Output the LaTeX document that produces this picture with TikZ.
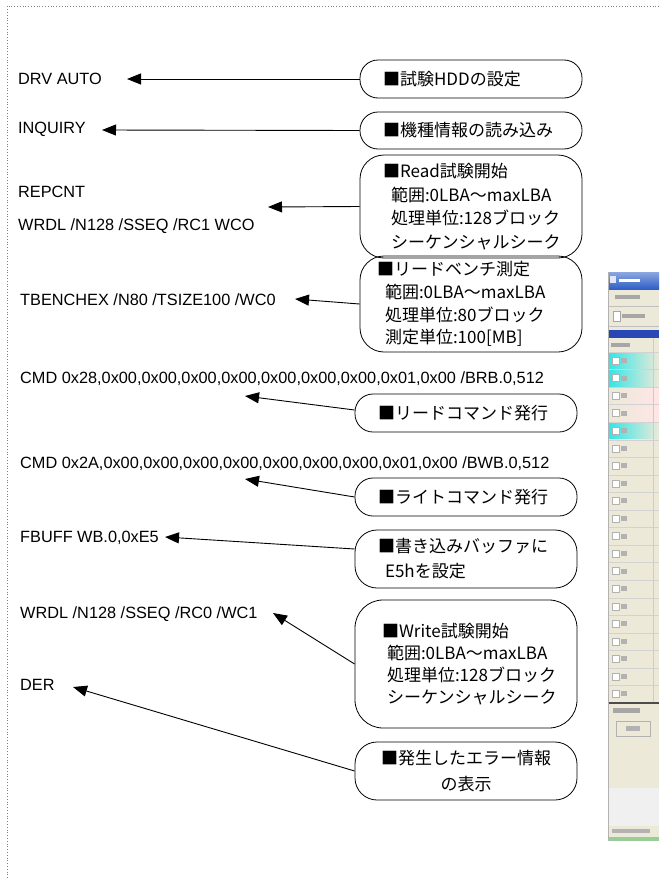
\documentclass[tikz,border=0pt]{standalone}
\usepackage{fontspec}
\setmainfont{Liberation Sans}
\newfontfamily\jp{Noto Sans CJK JP}
\usetikzlibrary{arrows.meta}
\definecolor{scrbg}{HTML}{ECE9D8}
\definecolor{xpblue}{HTML}{2F5FC8}
\definecolor{xpdark}{HTML}{2846B4}
\definecolor{rowcyan}{HTML}{35E6E6}
\begin{document}
\begin{tikzpicture}[x=1pt,y=-1pt,
  cmd/.style={anchor=base west,inner sep=0pt,font=\fontsize{16.3}{19}\selectfont},
  note/.style={draw,line width=0.8pt,inner ysep=0pt,minimum width=222pt,align=left,
    font=\jp\fontsize{17}{23.5}\selectfont},
  pad/.style={inner xsep=23pt,text width=176pt},
  arr/.style={draw,line width=0.9pt,-{Triangle[length=14pt,width=11pt]}},
]
\useasboundingbox (0,0) rectangle (659,878);
\draw[gray,dotted,line width=0.8pt] (659,6) -- (7,6) -- (7,878);

% command texts
\node[cmd] (c1) at (18,84) {DRV AUTO};
\node[cmd] (c2) at (18,133) {INQUIRY};
\node[cmd] (c3a) at (18,197) {REPCNT};
\node[cmd] (c3b) at (18,230) {WRDL /N128 /SSEQ /RC1 WCO};
\node[cmd] (c4) at (20,305) {TBENCHEX /N80 /TSIZE100 /WC0};
\node[cmd] (c5) at (20,383) {CMD 0x28,0x00,0x00,0x00,0x00,0x00,0x00,0x00,0x01,0x00 /BRB.0,512};
\node[cmd] (c6) at (20,468) {CMD 0x2A,0x00,0x00,0x00,0x00,0x00,0x00,0x00,0x01,0x00 /BWB.0,512};
\node[cmd] (c7) at (20,542) {FBUFF WB.0,0xE5};
\node[cmd] (c8) at (20,618) {WRDL /N128 /SSEQ /RC0 /WC1};
\node[cmd] (c9) at (20,690) {DER};

% note boxes
\node[note,pad,rounded corners=18pt,minimum height=38pt] (b1) at (471,79) {■試験HDDの設定};
\node[note,pad,rounded corners=18pt,minimum height=37pt] (b2) at (471,130.5) {■機種情報の読み込み};
\node[note,pad,rounded corners=24pt,minimum height=103pt] (b3) at (471,206.5)
  {■Read試験開始\\\hspace*{8pt}範囲:0LBA〜maxLBA\\\hspace*{8pt}処理単位:128ブロック\\\hspace*{8pt}シーケンシャルシーク};
\node[note,inner xsep=17pt,text width=188pt,rounded corners=24pt,minimum height=96pt,
  font=\jp\fontsize{17}{22.7}\selectfont] (b4) at (471,304)
  {■リードベンチ測定\\\hspace*{8pt}範囲:0LBA〜maxLBA\\\hspace*{8pt}処理単位:80ブロック\\\hspace*{8pt}測定単位:100[MB]};
\node[note,pad,rounded corners=18pt,minimum height=38pt] (b5) at (466,413) {■リードコマンド発行};
\node[note,pad,rounded corners=18pt,minimum height=38pt] (b6) at (466,497) {■ライトコマンド発行};
\node[note,pad,rounded corners=22pt,minimum height=58pt,
  font=\jp\fontsize{17}{25}\selectfont] (b7) at (466,559)
  {■書き込みバッファに\\\hspace*{7pt}E5hを設定};
\node[note,inner xsep=27pt,text width=168pt,rounded corners=28pt,minimum height=128pt,
  font=\jp\fontsize{17}{22}\selectfont] (b8) at (466,664)
  {■Write試験開始\\\hspace*{5pt}範囲:0LBA〜maxLBA\\\hspace*{5pt}処理単位:128ブロック\\\hspace*{5pt}シーケンシャルシーク};
\node[note,align=center,text width=200pt,inner xsep=11pt,rounded corners=22pt,minimum height=58pt,
  font=\jp\fontsize{17}{26}\selectfont] (b9) at (466,771)
  {■発生したエラー情報\\の表示};

% arrow tips
\coordinate (t1) at (127,79);
\coordinate (t2) at (102,130);
\coordinate (t3) at (268,207);
\coordinate (t4) at (295,299);
\coordinate (t5) at (245,396);
\coordinate (t6) at (245,479);
\coordinate (t7) at (165,537);
\coordinate (t8) at (273,613);
\coordinate (t9) at (73,687);

\path[arr] (b1.west) -- (t1);
\path[arr] (b2.west) -- (t2);
\path[arr] (b3.west) -- (t3);
\path[arr] (b4.west) -- (t4);
\path[arr] ([yshift=3pt]b5.west) -- (t5);
\path[arr] (b6.west) -- (t6);
\path[arr] ([yshift=10pt]b7.west) -- (t7);
\path[arr] (b8.west) -- (t8);
\path[arr] (b9.west) -- (t9);

% screenshot of the application window (approximation)
\begin{scope}
  \fill[scrbg] (608,272) rectangle (659,841);
  \shade[top color=xpblue!55!white,bottom color=xpblue] (608,272) rectangle (659,289);
  \fill[white!85!xpblue] (610,276) rectangle (616,283);
  \fill[white] (619,279) rectangle (640,282);
  \fill[gray!70] (615,295) rectangle (640,299);
  \draw[gray!50] (608,306) -- (659,306);
  \draw[gray!70,fill=white] (613,311) rectangle (620,321);
  \fill[gray!70] (622,314) rectangle (645,318);
  \draw[gray!50] (608,326) -- (659,326);
  \fill[xpdark] (608,330) rectangle (659,338);
  \fill[gray!70] (611,343) rectangle (630,347);
  \foreach \i in {0,...,19}{
    \pgfmathsetmacro{\yy}{352+\i*17.55}
    \draw[gray!35] (608,\yy) -- (659,\yy);
  }
  \foreach \i in {0,1,4}{
    \pgfmathsetmacro{\yy}{352+\i*17.55}
    \shade[left color=rowcyan,right color=scrbg] (609,\yy+1) rectangle (659,\yy+16.5);
  }
  \foreach \i in {2,3}{
    \pgfmathsetmacro{\yy}{352+\i*17.55}
    \shade[left color=scrbg,right color=red!10] (609,\yy+1) rectangle (659,\yy+16.5);
  }
  \foreach \i in {0,...,19}{
    \pgfmathsetmacro{\yy}{352+\i*17.55}
    \draw[gray!60,fill=white] (612,\yy+5) rectangle (619,\yy+12);
    \fill[gray!60] (621,\yy+6) rectangle (627,\yy+11);
  }
  \draw[gray!40] (653,338) -- (653,703);
  \draw[gray!60!black,line width=1.5pt] (608,703) -- (659,703);
  \fill[gray!70] (613,708) rectangle (640,713);
  \draw[gray!60] (616,721) rectangle (650,736);
  \fill[gray!60] (626,726) rectangle (640,731);
  \fill[gray!12] (608,788) rectangle (659,826);
  \fill[gray!60] (612,829) rectangle (650,833);
  \fill[green!35!gray!60] (608,837) rectangle (659,841);
  \draw[gray!60] (608,272) -- (608,841);
\end{scope}
\end{tikzpicture}
\end{document}
